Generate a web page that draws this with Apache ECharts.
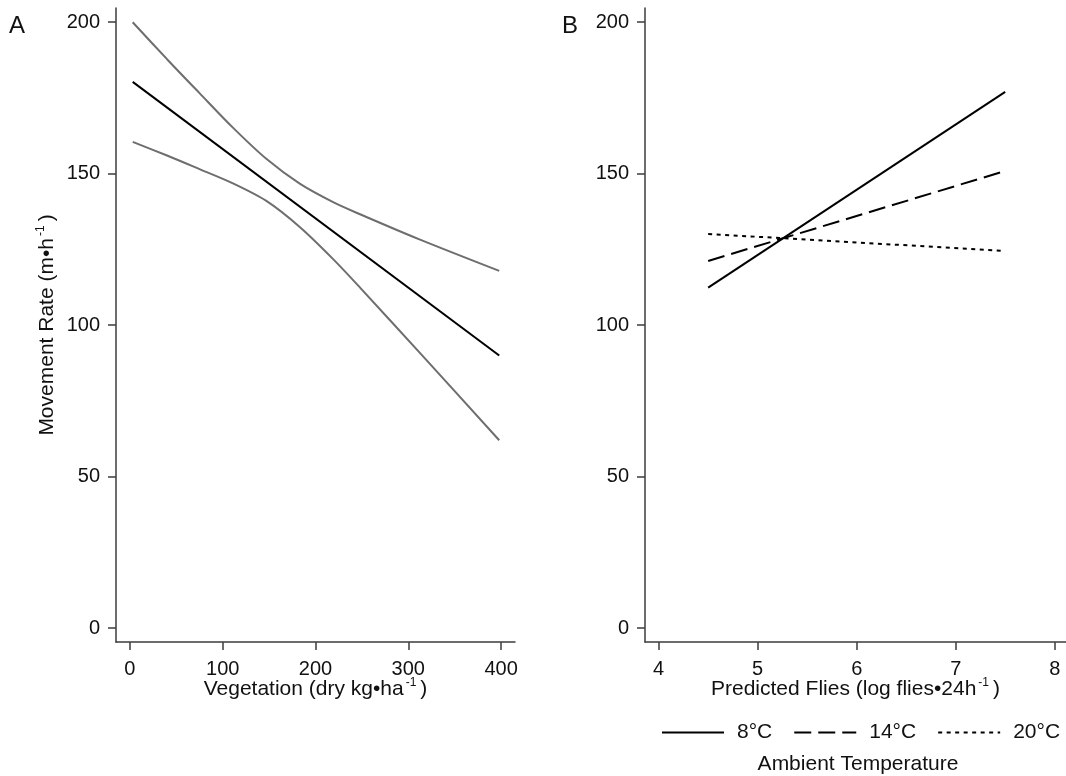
<!DOCTYPE html>
<html>
<head>
<meta charset="utf-8">
<title>Movement rate</title>
<script src="https://cdn.jsdelivr.net/npm/echarts@6/dist/echarts.min.js"></script>
<style>
  html, body { margin: 0; padding: 0; background: #fff; }
  #chart { width: 1066px; height: 776px; }
</style>
</head>
<body>
<div id="chart"></div>
<script>
// Panel A: movement rate against vegetation, fitted line with confidence band
const vegetation = [3, 40, 75, 111, 147, 183, 219, 248, 312, 398];
const ciUpper = [200, 187.8, 176.6, 165.2, 154.9, 146.7, 140.6, 136.6, 128.3, 117.9];
const ciLower = [160.5, 156.0, 151.5, 146.8, 141.0, 132.4, 121.8, 112.4, 91.0, 62.0];
const fitX = [3, 398];
const fitY = [180.3, 90.0];

// Panel B: movement rate against predicted flies by ambient temperature
const flies = [4.5, 7.5];
const rate8C = [112.4, 177.0];
const rate14C = [121.2, 150.9];
const rate20C = [130.1, 124.5];
const tempNames = ['8°C', '14°C', '20°C'];

// Tick labels
const rateTicks = [0, 50, 100, 150, 200];
const vegTicks = [0, 100, 200, 300, 400];
const fliesTicks = [4, 5, 6, 7, 8];

const FONT = '"Liberation Sans", Arial, sans-serif';
const AXIS_COLOR = '#3c3c3c';
const TEXT_COLOR = '#111';

function pairs(xs, ys) { return xs.map((x, i) => [x, ys[i]]); }

const supRich = {
  t: { fontSize: 21, fontFamily: FONT, color: TEXT_COLOR, lineHeight: 25 },
  s: { fontSize: 12, fontFamily: FONT, color: TEXT_COLOR, lineHeight: 12, verticalAlign: 'top', padding: [0, 4, 0, 2] }
};

function xAxisBase(min, max, ticks, name) {
  return {
    type: 'value', min: min, max: max,
    axisLine: { show: true, onZero: false, lineStyle: { color: AXIS_COLOR, width: 1.5 } },
    axisTick: { show: true, length: 8, customValues: ticks, lineStyle: { color: AXIS_COLOR, width: 1.5 } },
    axisLabel: { customValues: ticks, fontSize: 20, fontFamily: FONT, color: TEXT_COLOR, margin: 17 },
    splitLine: { show: false },
    name: name, nameLocation: 'middle', nameGap: 35, nameMoveOverlap: false,
    nameTextStyle: { rich: supRich }
  };
}

function yAxisBase(gridIndex, name) {
  const ax = {
    type: 'value', gridIndex: gridIndex, min: -4.6, max: 204.7,
    axisLine: { show: true, onZero: false, lineStyle: { color: AXIS_COLOR, width: 1.5 } },
    axisTick: { show: true, length: 8, customValues: rateTicks, lineStyle: { color: AXIS_COLOR, width: 1.5 } },
    axisLabel: { customValues: rateTicks, fontSize: 20, fontFamily: FONT, color: TEXT_COLOR, margin: 16 },
    splitLine: { show: false }
  };
  if (name) {
    ax.name = name;
    ax.nameLocation = 'middle';
    ax.nameRotate = 90;
    ax.nameGap = 56;
    ax.nameMoveOverlap = false;
    ax.nameTextStyle = { rich: supRich };
  }
  return ax;
}

const chart = echarts.init(document.getElementById('chart'), null, { renderer: 'canvas' });

const xA = xAxisBase(-15, 415, vegTicks, '{t|Vegetation (dry kg•ha}{s|-1}{t|)}');
xA.gridIndex = 0;
const xB = xAxisBase(3.862, 8.114, fliesTicks, '{t|Predicted Flies (log flies•24h}{s|-1}{t|)}');
xB.gridIndex = 1;

const option = {
  animation: false,
  backgroundColor: '#fff',
  grid: [
    { left: 116, top: 8, width: 399, height: 634 },
    { left: 645, top: 8, width: 421, height: 634 }
  ],
  xAxis: [xA, xB],
  yAxis: [
    yAxisBase(0, '{t|Movement Rate (m•h}{s|-1}{t|)}'),
    yAxisBase(1, null)
  ],
  legend: {
    data: tempNames,
    orient: 'horizontal',
    left: 661, top: 722, width: 405, padding: 0,
    itemWidth: 62, itemHeight: 14, itemGap: 21,
    itemStyle: { color: 'rgba(0,0,0,0)', borderWidth: 0, opacity: 0 },
    textStyle: { fontSize: 21, fontFamily: FONT, color: TEXT_COLOR, padding: [0, 0, 0, 8] }
  },
  graphic: [
    { type: 'text', x: 9, y: 26, style: { text: 'A', font: '24px ' + FONT, fill: TEXT_COLOR, textVerticalAlign: 'middle' } },
    { type: 'text', x: 562, y: 26, style: { text: 'B', font: '24px ' + FONT, fill: TEXT_COLOR, textVerticalAlign: 'middle' } },
    { type: 'text', x: 858, y: 764, style: { text: 'Ambient Temperature', font: '21px ' + FONT, fill: TEXT_COLOR, textAlign: 'center', textVerticalAlign: 'middle' } }
  ],
  series: [
    { type: 'line', xAxisIndex: 0, yAxisIndex: 0, data: pairs(vegetation, ciUpper), smooth: 0.3, symbol: 'none',
      lineStyle: { color: '#6e6e6e', width: 2 } },
    { type: 'line', xAxisIndex: 0, yAxisIndex: 0, data: pairs(vegetation, ciLower), smooth: 0.3, symbol: 'none',
      lineStyle: { color: '#6e6e6e', width: 2 } },
    { type: 'line', xAxisIndex: 0, yAxisIndex: 0, data: pairs(fitX, fitY), symbol: 'none',
      lineStyle: { color: '#000', width: 2 } },
    { name: tempNames[0], type: 'line', xAxisIndex: 1, yAxisIndex: 1, data: pairs(flies, rate8C), symbol: 'none',
      itemStyle: { color: '#000' }, lineStyle: { color: '#000', width: 2, type: 'solid' } },
    { name: tempNames[1], type: 'line', xAxisIndex: 1, yAxisIndex: 1, data: pairs(flies, rate14C), symbol: 'none',
      itemStyle: { color: '#000' }, lineStyle: { color: '#000', width: 2, type: [17, 7] } },
    { name: tempNames[2], type: 'line', xAxisIndex: 1, yAxisIndex: 1, data: pairs(flies, rate20C), symbol: 'none',
      itemStyle: { color: '#000' }, lineStyle: { color: '#000', width: 2, type: [4, 4.5] } }
  ]
};

chart.setOption(option);
</script>
</body>
</html>
